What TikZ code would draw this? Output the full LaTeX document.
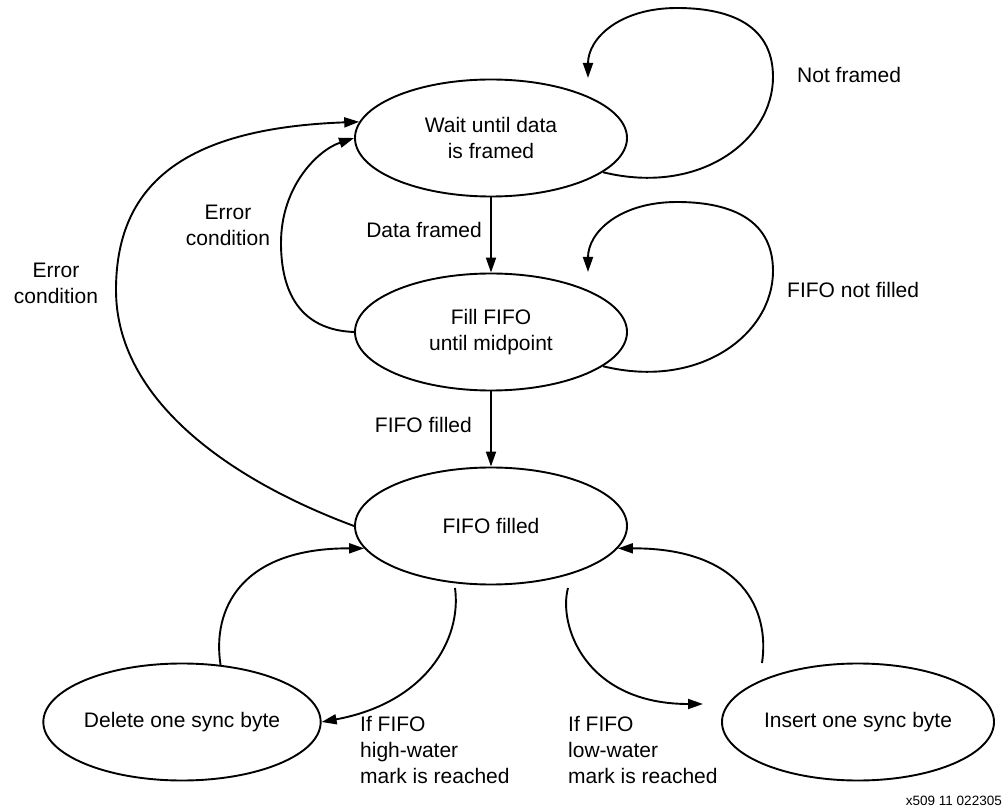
\documentclass[tikz,border=0pt]{standalone}
\usepackage{fontspec}
\setmainfont{Liberation Sans}
\usetikzlibrary{shapes.geometric,arrows.meta}

\begin{document}
\begin{tikzpicture}[x=1pt,y=-1pt,
  state/.style={draw,ellipse,line width=1.9pt,minimum width=272pt,minimum height=117pt,
                inner sep=0pt,align=center,font=\fontsize{21}{26}\selectfont},
  lbl/.style={align=center,font=\fontsize{21}{26}\selectfont,inner sep=0pt},
  lbll/.style={align=left,font=\fontsize{21}{26}\selectfont,inner sep=0pt},
  conn/.style={line width=1.9pt,-{Triangle[length=15pt,width=10pt]}},
  tag/.style={font=\fontsize{13.5}{16}\selectfont,inner sep=0pt}]
\useasboundingbox (0,0) rectangle (1005,810);

% states
\node[state] (wait)   at (491,138) {Wait until data\\is framed};
\node[state] (fill)   at (491,332) {Fill FIFO\\until midpoint};
\node[state] (full)   at (491,526) {FIFO filled};
\node[state] (del)    at (182,722) {Delete one sync byte};
\node[state] (ins)    at (858,722) {Insert one sync byte};

% free ends of the self loops and the water-mark branches
\coordinate (nfTip)  at (588,78);
\coordinate (fnTip)  at (588,272);
\coordinate (hwFrom) at (455,588);
\coordinate (lwFrom) at (568,588);
\coordinate (lwTip)  at (703,704);
\coordinate (insUp)  at (762,663);

% main path
\draw[conn] (wait.south) -- (fill.north);
\draw[conn] (fill.south) -- (full.north);

% self loops
\draw[conn] (wait.-17) .. controls (700,196) and (773,140) .. (773,77)
  .. controls (773,22) and (725,8) .. (677,8)
  .. controls (620,8) and (588,38) .. (nfTip);
\draw[conn] (fill.-17) .. controls (700,390) and (773,334) .. (773,271)
  .. controls (773,216) and (725,202) .. (677,202)
  .. controls (620,202) and (588,232) .. (fnTip);

% error returns
\draw[conn] (fill.west) .. controls (300,330) and (281,292) .. (281,243)
  .. controls (281,186) and (318,150) .. (wait.west);
\draw[conn] (full.west) .. controls (230,480) and (116,400) .. (116,290)
  .. controls (116,180) and (190,128) .. (wait.173);

% water-mark branches
\draw[conn] (hwFrom) .. controls (462,640) and (425,703) .. (del.east);
\draw[conn] (del.56) .. controls (212,610) and (240,548) .. (full.190);
\draw[conn] (lwFrom) .. controls (558,625) and (585,704) .. (lwTip);
\draw[conn] (insUp) .. controls (770,610) and (742,548) .. (full.-10);

% transition labels
\node[lbl, anchor=east]  (lDf)  at (482,230) {Data framed};
\node[lbl, anchor=east]  (lFf)  at (472,425) {FIFO filled};
\node[lbl, anchor=west]  (lNf)  at (797,75)  {Not framed};
\node[lbl, anchor=west]  (lFnf) at (787,290) {FIFO not filled};
\node[lbl]               (lEc1) at (228,225) {Error\\condition};
\node[lbl]               (lEc2) at (56,283)  {Error\\condition};
\node[lbll, anchor=north west] (lHw) at (360,716) {If FIFO\\high-water\\mark is reached};
\node[lbll, anchor=north west] (lLw) at (568,716) {If FIFO\\low-water\\mark is reached};

\node[tag, anchor=south east] (fig) at (1002,806) {x509 11 022305};
\end{tikzpicture}
\end{document}
